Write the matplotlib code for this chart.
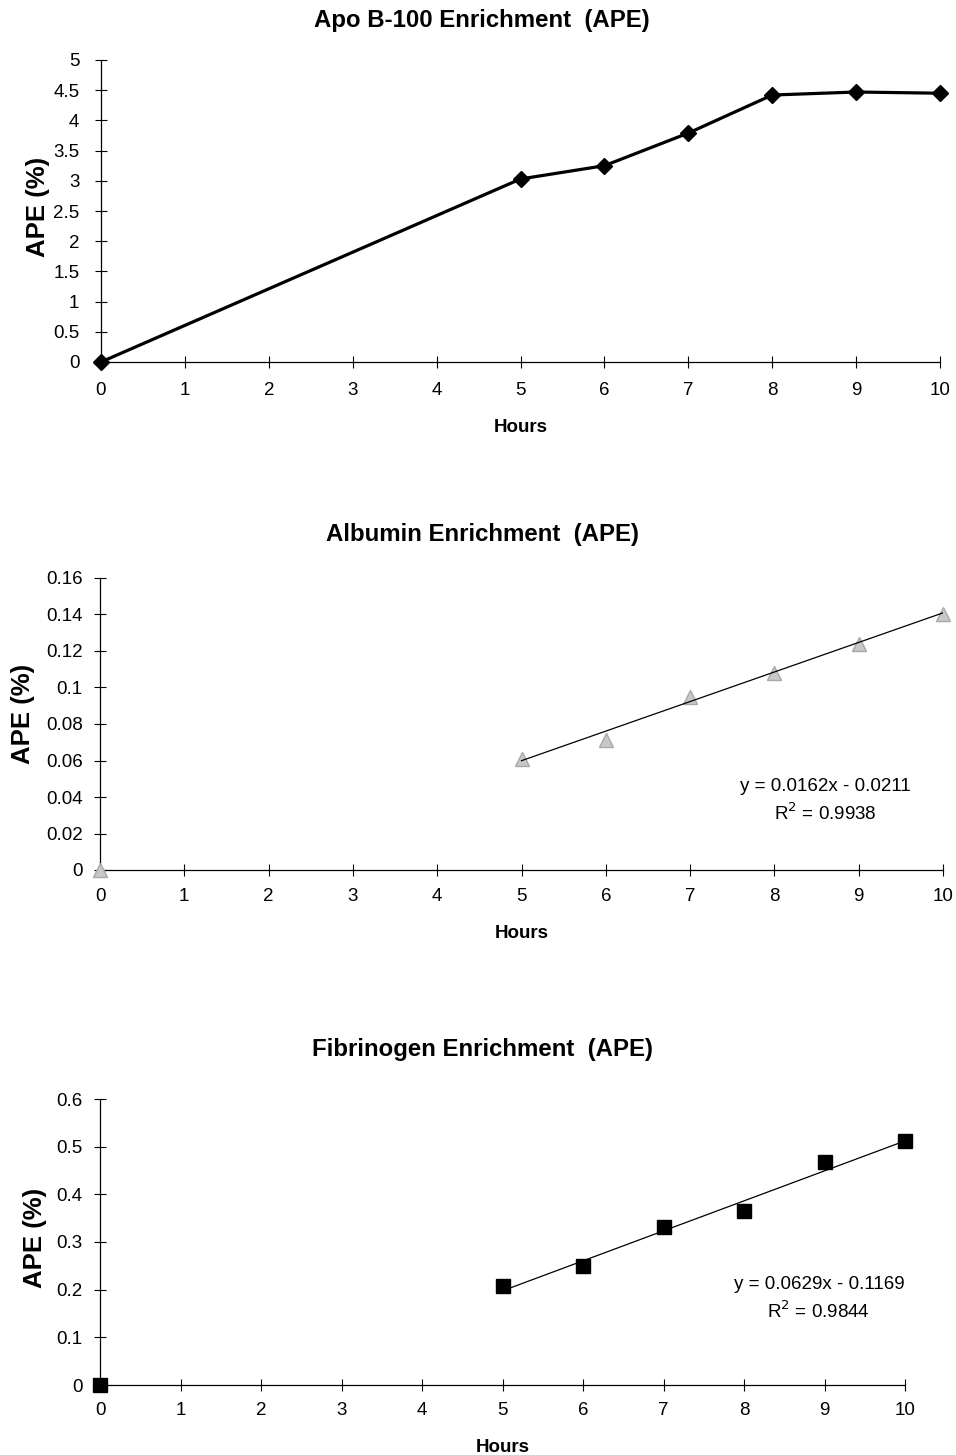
import matplotlib
matplotlib.use("Agg")
import matplotlib.pyplot as plt
import numpy as np

plt.rcParams['font.family'] = ['Liberation Sans', 'DejaVu Sans']

# ---- data ----
hours = [0, 5, 6, 7, 8, 9, 10]
apob100 = [0, 3.03, 3.25, 3.79, 4.42, 4.47, 4.45]
albumin = [0, 0.061, 0.071, 0.095, 0.108, 0.124, 0.140]
fibrinogen = [0, 0.208, 0.249, 0.331, 0.365, 0.467, 0.511]

alb_fit = (0.0162, -0.0211)
fib_fit = (0.0629, -0.1169)
alb_eq = "y = 0.0162x - 0.0211\nR$^2$ = 0.9938"
fib_eq = "y = 0.0629x - 0.1169\nR$^2$ = 0.9844"
fit_range = (5, 10)

titles = ["Apo B-100 Enrichment  (APE)", "Albumin Enrichment  (APE)",
          "Fibrinogen Enrichment  (APE)"]
xlabel = "Hours"
ylabel = "APE (%)"
x_ticks = list(range(0, 11))
apo_yticks = [0, 0.5, 1, 1.5, 2, 2.5, 3, 3.5, 4, 4.5, 5]
alb_yticks = [0, 0.02, 0.04, 0.06, 0.08, 0.1, 0.12, 0.14, 0.16]
fib_yticks = [0, 0.1, 0.2, 0.3, 0.4, 0.5, 0.6]

W, H = 956, 1455
fig = plt.figure(figsize=(W / 100, H / 100), dpi=100)
TITLE_X = 482


def px_axes(l, r, t, b):
    ax = fig.add_axes([l / W, 1 - b / H, (r - l) / W, (b - t) / H])
    ax._px = (l, r, t, b)
    return ax


def style(ax, yticks, xpad, ypad, title, tpad, ylab_px):
    for s in ['top', 'right']:
        ax.spines[s].set_visible(False)
    for s in ['left', 'bottom']:
        ax.spines[s].set_linewidth(0.9)
    ax.set_xticks(x_ticks)
    ax.set_xticklabels([str(v) for v in x_ticks])
    ax.set_yticks(yticks)
    ax.set_yticklabels(["%g" % v for v in yticks])
    ax.tick_params(direction='inout', length=8, width=0.8, labelsize=13.5)
    ax.tick_params(axis='x', pad=xpad)
    ax.tick_params(axis='y', pad=ypad)
    ax.set_xlim(0, 10)
    ax.set_ylim(yticks[0], yticks[-1])
    ax.set_xlabel(xlabel, fontsize=13.5, fontweight='bold', labelpad=14.5)
    ax.set_ylabel(ylabel, fontsize=18.5, fontweight='bold')
    l, r, t, b = ax._px
    ax.yaxis.set_label_coords((ylab_px[0] - l) / (r - l), 1 - (ylab_px[1] - t) / (b - t))
    ax.set_title(title, fontsize=17.3, fontweight='bold', pad=tpad,
                 x=(TITLE_X - l) / (r - l))


xf = np.array(fit_range, dtype=float)

# Panel 1
ax1 = px_axes(101, 940, 60, 362)
ax1.plot(hours, apob100, color='black', lw=2.3, marker='D', ms=8.5, clip_on=False, zorder=5)
style(ax1, apo_yticks, 10.5, 11.5, titles[0], 24, (50, 207))

# Panel 2
ax2 = px_axes(100, 943, 578, 870)
ax2.plot(hours, albumin, linestyle='none', marker='^', ms=10, color='#c8c8c8',
         markeredgecolor='#a8a8a8', clip_on=False, zorder=4)
ax2.plot(xf, alb_fit[0] * xf + alb_fit[1], color='black', lw=0.9, zorder=5)
style(ax2, alb_yticks, 9, 8.5, titles[1], 26.5, (35, 714))
ax2.text(8.6, 0.0378, alb_eq, ha='center', va='center', fontsize=13.5, linespacing=1.4)

# Panel 3
ax3 = px_axes(100, 905, 1099, 1385)
ax3.plot(hours, fibrinogen, linestyle='none', marker='s', ms=10, color='black',
         clip_on=False, zorder=4)
ax3.plot(xf, fib_fit[0] * xf + fib_fit[1], color='black', lw=0.9, zorder=5)
style(ax3, fib_yticks, 8, 8.5, titles[2], 31, (47, 1238))
ax3.text(8.93, 0.18, fib_eq, ha='center', va='center', fontsize=13.5, linespacing=1.4)

fig.savefig("out.png", dpi=100)
